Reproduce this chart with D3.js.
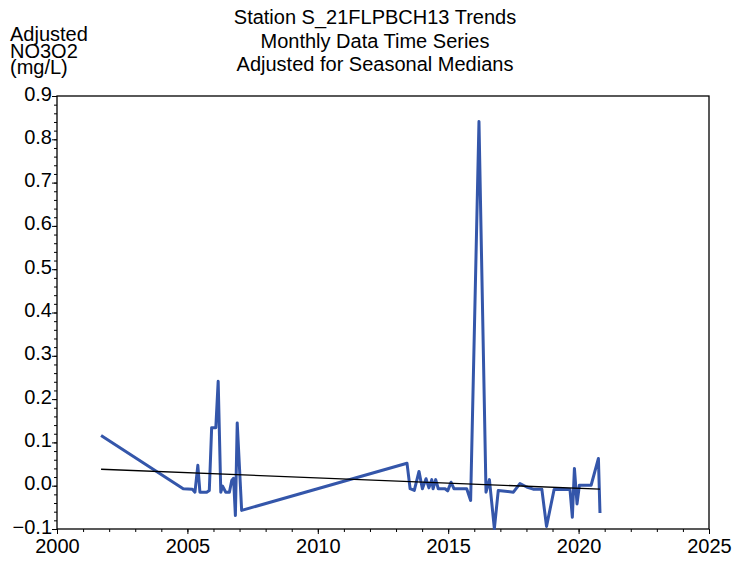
<!DOCTYPE html>
<html lang="en">
<meta charset="UTF-8">
<title>Station S_21FLPBCH13 Trends</title>
<script src="https://d3js.org/d3.v7.min.js"></script>
<style>
body { margin: 0; background: #fff; }
text { font-family: "Liberation Sans", Arial, sans-serif; fill: #000; }
</style>
<body>
<div id="chart"></div>
<script>
// chart text
var titleLines = ["Station S_21FLPBCH13 Trends", "Monthly Data Time Series", "Adjusted for Seasonal Medians"];
var yLabelLines = ["Adjusted", "NO3O2", "(mg/L)"];

// axis ticks
var xTicks = [2000, 2005, 2010, 2015, 2020, 2025];
var yTicks = [-0.1, 0.0, 0.1, 0.2, 0.3, 0.4, 0.5, 0.6, 0.7, 0.8, 0.9];

// adjusted series (decimal year, mg/L)
var years = [2001.69, 2004.84, 2005.19, 2005.29, 2005.40, 2005.48, 2005.74, 2005.84, 2005.93, 2006.09,
  2006.18, 2006.28, 2006.35, 2006.47, 2006.61, 2006.70, 2006.77, 2006.84, 2006.91, 2007.08,
  2013.42, 2013.54, 2013.70, 2013.88, 2014.01, 2014.15, 2014.26, 2014.37, 2014.42, 2014.52,
  2014.62, 2014.88, 2014.98, 2015.11, 2015.22, 2015.71, 2015.86, 2016.18, 2016.45, 2016.58,
  2016.77, 2016.92, 2017.50, 2017.75, 2018.01, 2018.26, 2018.59, 2018.77, 2019.06, 2019.67,
  2019.76, 2019.84, 2019.94, 2020.03, 2020.48, 2020.76, 2020.82];
var values = [0.116, -0.007, -0.008, -0.015, 0.047, -0.015, -0.015, -0.011, 0.134, 0.134,
  0.241, -0.015, -0.001, -0.015, -0.015, 0.012, 0.017, -0.069, 0.145, -0.057,
  0.052, -0.007, -0.011, 0.033, -0.007, 0.016, -0.005, 0.014, -0.007, 0.014,
  -0.007, -0.007, -0.012, 0.008, -0.007, -0.007, -0.034, 0.841, -0.015, 0.014,
  -0.099, -0.011, -0.015, 0.005, -0.003, -0.008, -0.008, -0.094, -0.009, -0.009,
  -0.073, 0.040, -0.042, 0.001, 0.001, 0.063, -0.063];

// trend line end points
var trendYears = [2001.69, 2020.82];
var trendValues = [0.038, -0.008];

var margin = {top: 96, right: 38, bottom: 35, left: 57},
    width = 747 - margin.left - margin.right,
    height = 564 - margin.top - margin.bottom;

var svg = d3.select("#chart")
  .append("svg")
  .attr("width", 747)
  .attr("height", 564);

var g = svg.append("g")
  .attr("transform", "translate(" + margin.left + "," + margin.top + ")");

var x = d3.scaleLinear().domain([2000, 2025]).range([0, width]);
var y = d3.scaleLinear().domain([-0.1, 0.9]).range([height, 0]);

// title
svg.selectAll(".title")
  .data(titleLines)
  .enter().append("text")
  .attr("x", 375)
  .attr("y", function(d, i) { return 24 + i * 23.5; })
  .attr("text-anchor", "middle")
  .style("font-size", "20px")
  .text(function(d) { return d; });

// y label
svg.selectAll(".ylab")
  .data(yLabelLines)
  .enter().append("text")
  .attr("x", 10)
  .attr("y", function(d, i) { return 41 + i * 16.5; })
  .style("font-size", "20px")
  .text(function(d) { return d; });

// minor ticks
g.append("g")
  .call(d3.axisLeft(y).tickValues(d3.range(-0.1, 0.9001, 0.02)).tickSize(3).tickFormat(""))
  .call(function(a) { a.select(".domain").remove(); });
g.append("g")
  .attr("transform", "translate(0," + height + ")")
  .call(d3.axisBottom(x).tickValues(d3.range(2000, 2026, 1)).tickSize(3).tickFormat(""))
  .call(function(a) { a.select(".domain").remove(); });

// major ticks
g.append("g")
  .call(d3.axisLeft(y).tickValues(yTicks).tickSize(5).tickPadding(0).tickFormat(d3.format(".1f")))
  .call(function(a) {
    a.select(".domain").remove();
    a.selectAll("text").style("font-size", "20px").attr("dy", "0.2em");
  });
g.append("g")
  .attr("transform", "translate(0," + height + ")")
  .call(d3.axisBottom(x).tickValues(xTicks).tickSize(5).tickPadding(4).tickFormat(d3.format("d")))
  .call(function(a) {
    a.select(".domain").remove();
    a.selectAll("text").style("font-size", "20px").attr("dy", "0.75em");
  });

// frame
g.append("rect")
  .attr("width", width)
  .attr("height", height)
  .attr("fill", "none")
  .attr("stroke", "#000")
  .attr("stroke-width", 1.3);

// series
var line = d3.line()
  .x(function(d) { return x(d[0]); })
  .y(function(d) { return y(d[1]); });

g.append("path")
  .datum(d3.zip(years, values))
  .attr("d", line)
  .attr("fill", "none")
  .attr("stroke", "#3456aa")
  .attr("stroke-width", 3)
  .attr("stroke-linejoin", "round");

g.append("path")
  .datum(d3.zip(trendYears, trendValues))
  .attr("d", line)
  .attr("fill", "none")
  .attr("stroke", "#000")
  .attr("stroke-width", 1.3);
</script>
</body>
</html>
